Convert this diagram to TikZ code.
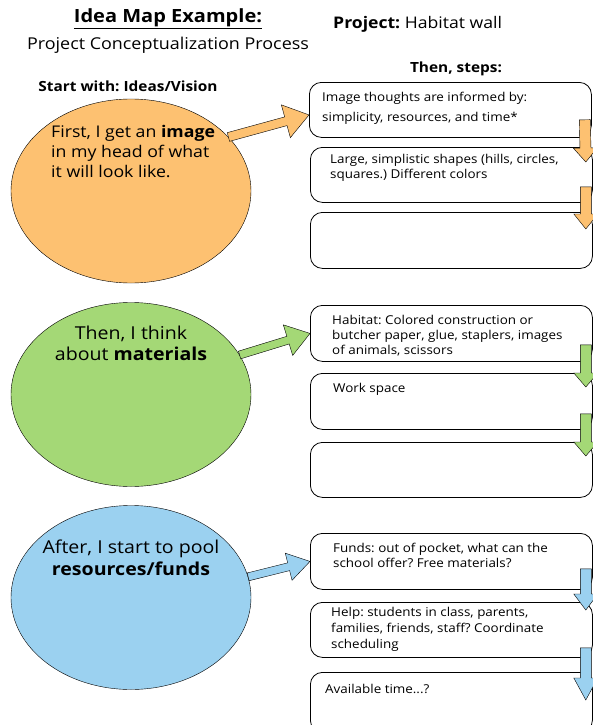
\documentclass[tikz,border=0pt]{standalone}
\usepackage{fontspec}
\setmainfont{Open Sans}[FakeStretch=1.1]
\frenchspacing
\usetikzlibrary{shapes.geometric,calc,positioning}

\definecolor{idea}{RGB}{253,193,113}
\definecolor{mater}{RGB}{164,216,118}
\definecolor{funds}{RGB}{155,209,240}

% fat block arrow: colour, from, to, shaft half width, head half width, head length
\newcommand{\fatarrow}[6]{%
  \coordinate (fa-h) at ($(#3)!#6!(#2)$);
  \draw[fill=#1, line join=miter, thin]
    ($(#2)!#4!90:(#3)$) -- ($(fa-h)!#4!90:(#3)$) -- ($(fa-h)!#5!90:(#3)$) -- (#3)
    -- ($(fa-h)!#5!-90:(#3)$) -- ($(fa-h)!#4!-90:(#3)$) -- ($(#2)!#4!-90:(#3)$) -- cycle;
}

\tikzset{
  bubble/.style={ellipse, draw, thin, minimum width=240pt, minimum height=184pt, inner sep=0pt},
  stepbox/.style={draw, line width=0.8pt, rounded corners=12pt, minimum width=282pt, anchor=north west, inner sep=0pt},
  steptext/.style={font=\fontsize{12.2}{15.5}\selectfont, align=left, anchor=north west, inner sep=0pt},
  bubbletext/.style={font=\fontsize{17.8}{21}\selectfont, inner sep=0pt},
  heading/.style={font=\bfseries\fontsize{14}{16}\selectfont, inner sep=0pt},
}

\begin{document}
\begin{tikzpicture}[x=1pt,y=-1pt]
  \useasboundingbox (0,0) rectangle (593,725);
  \clip (0,0) rectangle (593,725);

  % titles
  \node[font=\bfseries\fontsize{18.2}{21}\selectfont, inner sep=0pt] (title) at (168,19) {\underline{Idea Map Example:}};
  \node[font=\fontsize{16.3}{19}\selectfont, inner sep=0pt] (sub) at (168,45) {Project Conceptualization Process};
  \node[font=\fontsize{16}{19}\selectfont, anchor=west, inner sep=0pt] (proj) at (333,24) {\textbf{Project:} Habitat wall};
  \node[heading] (steps) at (456,69) {Then, steps:};
  \node[heading] (start) at (128,86) {Start with: Ideas/Vision};

  % bubbles
  \node[bubble, fill=idea] (e1) at (131,191) {};
  \node[bubble, fill=mater] (e2) at (131,394.5) {};
  \node[bubble, fill=funds] (e3) at (131,597.5) {};

  \node[bubbletext, font=\fontsize{16.1}{20}\selectfont, align=left, anchor=north west] (e1t) at (51,125) {First, I get an \textbf{image}\\in my head of what\\it will look like.};
  \node[bubbletext, align=center, anchor=north] (e2t) at (131,325.6) {Then, I think\\about \textbf{materials}};
  \node[bubbletext, font=\fontsize{17.8}{22}\selectfont, align=center, anchor=north] (e3t) at (131,539.6) {After, I start to pool\\\textbf{resources/funds}};

  % step boxes
  \node[stepbox, minimum height=55pt] (o1) at (309,82) {};
  \node[stepbox, minimum height=55pt] (o2) at (310,147) {};
  \node[stepbox, minimum height=56pt] (o3) at (310,212) {};
  \node[stepbox, minimum height=56pt] (g1) at (310,305) {};
  \node[stepbox, minimum height=56pt] (g2) at (310,373) {};
  \node[stepbox, minimum height=55pt] (g3) at (310,442) {};
  \node[stepbox, minimum height=56pt] (f1) at (310,533) {};
  \node[stepbox, minimum height=55pt] (f2) at (310,602) {};
  \node[stepbox, minimum height=60pt] (f3) at (310,672) {};

  \node[steptext, font=\fontsize{12.2}{20}\selectfont] (o1t) at (322,91.6) {Image thoughts are informed by:\\simplicity, resources, and time*};
  \node[steptext, font=\fontsize{12.2}{15}\selectfont] (o2t) at (330,153.6) {Large, simplistic shapes (hills, circles,\\squares.) Different colors};
  \node[steptext, font=\fontsize{12.2}{15}\selectfont] (g1t) at (332,314.6) {Habitat: Colored construction or\\butcher paper, glue, staplers, images\\of animals, scissors};
  \node[steptext] (g2t) at (333,382.6) {Work space};
  \node[steptext] (f1t) at (333,542.6) {Funds: out of pocket, what can the\\school offer? Free materials?};
  \node[steptext, font=\fontsize{12.2}{16}\selectfont] (f2t) at (331,606.6) {Help: students in class, parents,\\families, friends, staff? Coordinate\\scheduling};
  \node[steptext] (f3t) at (325,683.6) {Available time...?};

  % arrows from bubbles
  \fatarrow{idea}{e1.29}{[yshift=-5pt]o1.west}{4.5pt}{17pt}{24pt}
  \fatarrow{mater}{e2.20}{g1.west}{4pt}{16pt}{23pt}
  \fatarrow{funds}{e3.10}{f1.west}{4pt}{14pt}{22pt}

  % arrows between steps
  \coordinate (o1d) at ([xshift=-7pt,yshift=18pt]o1.south east);
  \coordinate (o2u) at ([xshift=-7pt,yshift=-15pt]o2.north east);
  \coordinate (o2d) at ([xshift=-7pt,yshift=16pt]o2.south east);
  \coordinate (o3u) at ([xshift=-7pt,yshift=-17pt]o3.north east);
  \coordinate (g1d) at ([xshift=-7pt,yshift=17pt]g1.south east);
  \coordinate (g2u) at ([xshift=-7pt,yshift=-14pt]g2.north east);
  \coordinate (g2d) at ([xshift=-7pt,yshift=16pt]g2.south east);
  \coordinate (g3u) at ([xshift=-7pt,yshift=-14pt]g3.north east);
  \coordinate (f1d) at ([xshift=-7pt,yshift=21pt]f1.south east);
  \coordinate (f2u) at ([xshift=-7pt,yshift=-8pt]f2.north east);
  \coordinate (f2d) at ([xshift=-7pt,yshift=10pt]f2.south east);
  \coordinate (f3u) at ([xshift=-7pt,yshift=-28pt]f3.north east);

  \fatarrow{idea}{o1d}{o2u}{5.5pt}{12pt}{14pt}
  \fatarrow{idea}{o2d}{o3u}{5.5pt}{12pt}{15pt}
  \fatarrow{mater}{g1d}{g2u}{5.5pt}{12pt}{14pt}
  \fatarrow{mater}{g2d}{g3u}{5.5pt}{12pt}{14pt}
  \fatarrow{funds}{f1d}{f2u}{5.5pt}{12pt}{16pt}
  \fatarrow{funds}{f2d}{f3u}{5.5pt}{12pt}{22pt}
\end{tikzpicture}
\end{document}
